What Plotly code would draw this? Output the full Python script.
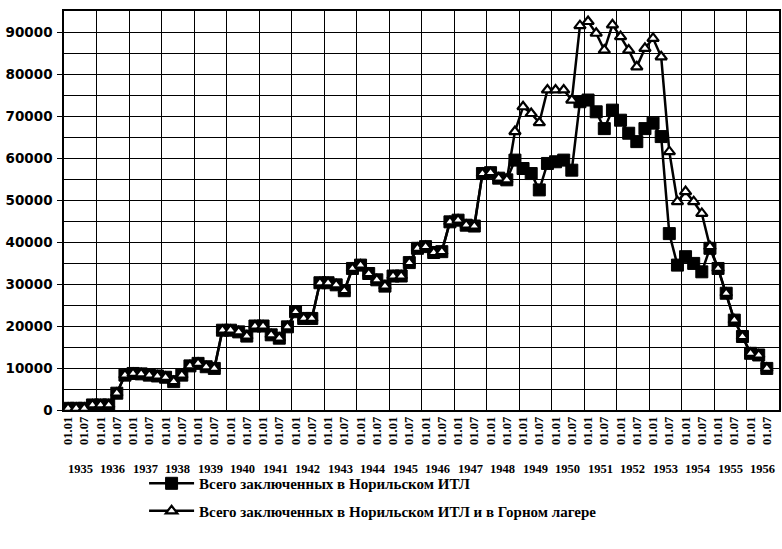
import plotly.graph_objects as go

# ---- data (quarterly, 01.01.1935 ... 01.07.1956) ----
years = list(range(1935, 1957))
quarters = ["01.01", "01.04", "01.07", "01.10"]

norilsk = [400, 400, 400, 1200, 1200, 1200, 4000, 8300, 8700, 8600,
           8300, 8100, 7800, 6750, 8300, 10500, 11100, 10300, 9900, 19000,
           19000, 18600, 17600, 20000, 20000, 17900, 17100, 19800, 23400, 21800,
           21800, 30300, 30300, 29800, 28400, 33700, 34500, 32500, 31000, 29500,
           31900, 31900, 35100, 38500, 38900, 37500, 37700, 44800, 45200, 44000,
           43800, 56300, 56500, 55200, 54800, 59500, 57500, 56300, 52400, 58700,
           59100, 59500, 57100, 73400, 73800, 71000, 67000, 71400, 69000, 65900,
           63900, 67000, 68300, 65100, 42000, 34500, 36500, 34900, 32900, 38500,
           33700, 27800, 21400, 17500, 13500, 13100, 9900]

gorny_extra = {55: 66300, 56: 72200, 57: 70600, 58: 68400, 59: 76200, 60: 76200,
               61: 76200, 62: 73800, 63: 91500, 64: 92500, 65: 89700, 66: 85700,
               67: 91700, 68: 88900, 69: 85700, 70: 81700, 71: 86100, 72: 88500,
               73: 84100, 74: 61500, 75: 49600, 76: 52000, 77: 49600, 78: 46800,
               79: 38900}
total = [gorny_extra.get(i, v) for i, v in enumerate(norilsk)]

name1 = "Всего заключенных в Норильском ИТЛ"
name2 = "Всего заключенных в Норильском ИТЛ и в Горном лагере"

y_ticks = list(range(0, 90001, 10000))

# ---- figure ----
idx = list(range(len(norilsk)))
tick_idx = [i for i in range(0, len(years) * 4) if i % 2 == 0]
tick_txt = [quarters[i % 4] for i in tick_idx]

serif = "Liberation Serif"

fig = go.Figure()
fig.add_trace(go.Scatter(
    x=idx, y=norilsk, name=f"<b>{name1}</b>", mode="lines+markers", legendgroup="a",
    line=dict(color="black", width=2.5),
    marker=dict(symbol="square", size=12, color="black",
                line=dict(color="black", width=1)),
))
fig.add_trace(go.Scatter(
    x=idx, y=total, name=f"<b>{name2}</b>", mode="lines+markers", legendgroup="b",
    line=dict(color="black", width=2.5),
    marker=dict(symbol="triangle-up", size=10, color="white",
                line=dict(color="black", width=2.2)),
))

for k, yr in enumerate(years):
    fig.add_annotation(x=4 * k + 1.5, xref="x", y=-0.147, yref="paper",
                       text=f"<b>{yr}</b>", showarrow=False,
                       font=dict(family=serif, size=12.5, color="black"),
                       yanchor="middle")

fig.update_layout(
    width=782, height=549,
    margin=dict(l=64, r=3, t=11, b=139, autoexpand=False),
    paper_bgcolor="white", plot_bgcolor="white",
    showlegend=True,
    legend=dict(x=0.112, xanchor="left", y=-0.143, yanchor="top",
                font=dict(family=serif, size=15, color="black"),
                itemwidth=45, tracegroupgap=5, bgcolor="rgba(0,0,0,0)"),
    xaxis=dict(range=[-0.5, 87.5], tickmode="array", tickvals=tick_idx,
               ticktext=[f"<b>{t}</b>" for t in tick_txt], tickangle=-90,
               tickfont=dict(family=serif, size=12.5, color="black"),
               showgrid=False, zeroline=False, showline=True, mirror=True,
               linecolor="black", linewidth=1.5, ticks="", automargin=False,
               minor=dict(tick0=-0.5, dtick=4, showgrid=True,
                          gridcolor="black", gridwidth=1.3, ticks="")),
    yaxis=dict(range=[0, 95000], tickmode="array", tickvals=y_ticks,
               ticktext=[f"<b>{v}</b>" for v in y_ticks],
               tickfont=dict(family="DejaVu Sans", size=13.5, color="black"),
               showgrid=True, gridcolor="black", gridwidth=1.3,
               zeroline=False, showline=True, mirror=True, automargin=False,
               linecolor="black", linewidth=1.5,
               ticks="outside", ticklen=5, tickcolor="black",
               ticklabelstandoff=2,
               minor=dict(dtick=5000, showgrid=True, gridcolor="black",
                          gridwidth=1.3)),
)

fig.write_html("out.html", config={"displayModeBar": False},
               post_script="document.body.style.margin='0';document.body.style.padding='0';")
